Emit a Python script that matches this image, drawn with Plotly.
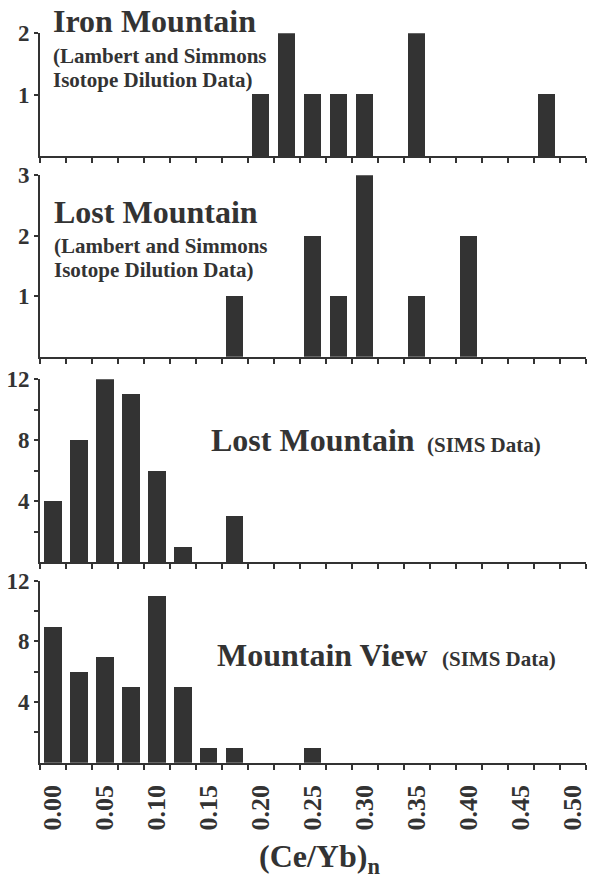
import plotly.graph_objects as go

# ---- data ----
bin_centers = [0.000, 0.025, 0.050, 0.075, 0.100, 0.125, 0.150, 0.175, 0.200, 0.225,
               0.250, 0.275, 0.300, 0.325, 0.350, 0.375, 0.400, 0.425, 0.450, 0.475, 0.500]
iron_mountain_id = [0, 0, 0, 0, 0, 0, 0, 0, 1, 2, 1, 1, 1, 0, 2, 0, 0, 0, 0, 1, 0]
lost_mountain_id = [0, 0, 0, 0, 0, 0, 0, 1, 0, 0, 2, 1, 3, 0, 1, 0, 2, 0, 0, 0, 0]
lost_mountain_sims = [4, 8, 12, 11, 6, 1, 0, 3, 0, 0, 0, 0, 0, 0, 0, 0, 0, 0, 0, 0, 0]
mountain_view_sims = [9, 6, 7, 5, 11, 5, 1, 1, 0, 0, 1, 0, 0, 0, 0, 0, 0, 0, 0, 0, 0]
x_tick_vals = [0.00, 0.05, 0.10, 0.15, 0.20, 0.25, 0.30, 0.35, 0.40, 0.45, 0.50]
x_tick_text = ["0.00", "0.05", "0.10", "0.15", "0.20", "0.25", "0.30", "0.35", "0.40", "0.45", "0.50"]

W, H = 599, 878
FONT = "Liberation Serif, Times New Roman, serif"
INK = "#333333"

def px_x(v):
    return v / W

def px_y(v):
    return 1 - v / H

panels = [
    # (counts, top_px, bottom_px, ymax, tickvals, minor ticks)
    (iron_mountain_id, 33.3, 156.0, 2, [1, 2], None),
    (lost_mountain_id, 175.2, 356.7, 3, [1, 2, 3], None),
    (lost_mountain_sims, 379.3, 562.3, 12, [4, 8, 12], [2, 6, 10]),
    (mountain_view_sims, 580.6, 762.7, 12, [4, 8, 12], [2, 6, 10]),
]

x_left, x_right = 40.0, 585.7
bin_w = 0.025

fig = go.Figure()
layout = dict(
    width=W, height=H,
    margin=dict(l=0, r=0, t=0, b=0),
    paper_bgcolor="white", plot_bgcolor="white",
    showlegend=False,
    bargap=0,
)

for i, (counts, top, bot, ymax, yticks, yminor) in enumerate(panels, start=1):
    xa = "x" if i == 1 else f"x{i}"
    ya = "y" if i == 1 else f"y{i}"
    fig.add_trace(go.Bar(
        x=bin_centers, y=counts, width=bin_w * 0.66,
        marker=dict(color=INK, line=dict(width=0)),
        xaxis=xa, yaxis=ya, hoverinfo="x+y",
    ))
    last = (i == 4)
    xaxis = dict(
        domain=[px_x(x_left), px_x(x_right)],
        anchor=ya,
        range=[bin_centers[0] - bin_w / 2, bin_centers[-1] + bin_w / 2],
        showline=True, linecolor=INK, linewidth=2,
        showgrid=False, zeroline=False,
        tickmode="array", tickvals=x_tick_vals, ticktext=x_tick_text,
        ticks="", showticklabels=last,
        tickangle=-90,
        tickfont=dict(family=FONT, size=26, color=INK, weight="bold"),
        ticklabelstandoff=10,
        minor=dict(tickmode="linear", tick0=bin_centers[0] - bin_w / 2, dtick=bin_w,
                   ticks="outside", ticklen=5, tickwidth=2, tickcolor=INK, showgrid=False),
        automargin=False, fixedrange=True,
    )
    yaxis = dict(
        domain=[px_y(bot), px_y(top)],
        anchor=xa,
        range=[0, ymax],
        showline=True, linecolor=INK, linewidth=2,
        showgrid=False, zeroline=False,
        tickmode="array", tickvals=yticks, ticktext=[str(v) for v in yticks],
        ticks="outside", ticklen=4, tickwidth=2, tickcolor=INK,
        tickfont=dict(family=FONT, size=23, color=INK, weight="bold"),
        automargin=False, fixedrange=True,
    )
    if yminor:
        yaxis["minor"] = dict(tickmode="array", tickvals=yminor, ticks="outside",
                              ticklen=4, tickwidth=2, tickcolor=INK, showgrid=False)
    layout["xaxis" if i == 1 else f"xaxis{i}"] = xaxis
    layout["yaxis" if i == 1 else f"yaxis{i}"] = yaxis

def label(text, left_px, baseline_px, size):
    return dict(
        text=text, xref="paper", yref="paper",
        x=px_x(left_px - 1), y=px_y(baseline_px - 0.3375 * size),
        xanchor="left", yanchor="middle", showarrow=False,
        font=dict(family=FONT, size=size, color=INK, weight="bold"),
    )

annotations = [
    label("Iron Mountain", 51.7, 31.7, 32),
    label("(Lambert and Simmons", 51.7, 62.7, 21),
    label("Isotope Dilution Data)", 51.7, 87.3, 21),
    label("Lost Mountain", 53.3, 223.3, 32),
    label("(Lambert and Simmons", 53.3, 252.7, 21),
    label("Isotope Dilution Data)", 53.3, 277.3, 21),
    label("Lost Mountain", 210, 451, 32),
    label("(SIMS Data)", 425.7, 451.7, 21),
    label("Mountain View", 216, 666, 32),
    label("(SIMS Data)", 441, 666, 21),
    dict(text="(Ce/Yb)<sub>n</sub>", xref="paper", yref="paper",
         x=px_x(319), y=px_y(858), xanchor="center", yanchor="middle", showarrow=False,
         font=dict(family=FONT, size=32, color=INK, weight="bold")),
]
layout["annotations"] = annotations

fig.update_layout(**layout)
fig.write_html("out.html")
